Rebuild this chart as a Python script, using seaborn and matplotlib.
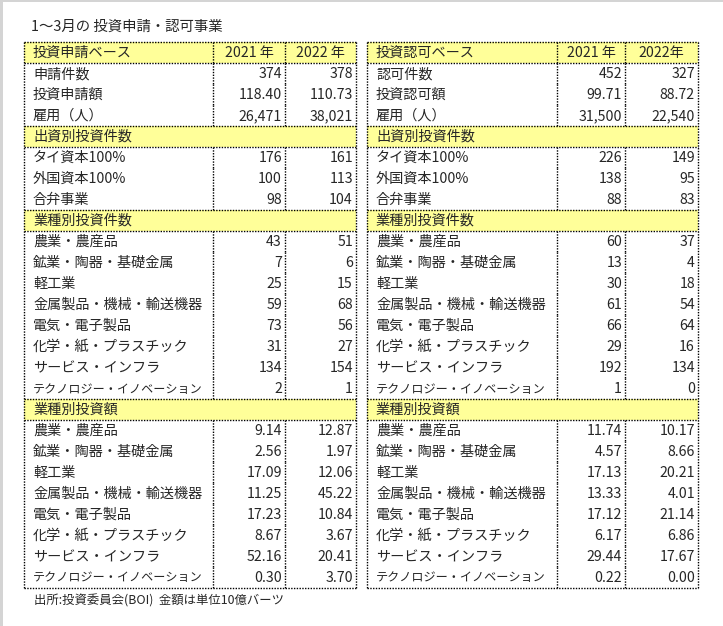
import matplotlib
matplotlib.use("Agg")
import matplotlib.pyplot as plt
from matplotlib.patches import Rectangle
import seaborn as sns

sns.set_theme(style="white")
plt.rcParams['font.family'] = ['Noto Sans CJK JP', 'DejaVu Sans']

# ---- data ----
TITLE = "1～3月の 投資申請・認可事業"
NOTE = "出所:投資委員会(BOI)  金額は単位10億バーツ"

left_head = ["投資申請ベース", "2021 年", "2022 年"]
right_head = ["投資認可ベース", "2021 年", "2022年"]

left_base_labels = ["申請件数", "投資申請額", "雇用（人）"]
right_base_labels = ["認可件数", "投資認可額", "雇用（人）"]
left_base_2021 = [374, 118.40, 26471]
left_base_2022 = [378, 110.73, 38021]
right_base_2021 = [452, 99.71, 31500]
right_base_2022 = [327, 88.72, 22540]

capital_labels = ["タイ資本100%", "外国資本100%", "合弁事業"]
left_cap_2021 = [176, 100, 98]
left_cap_2022 = [161, 113, 104]
right_cap_2021 = [226, 138, 88]
right_cap_2022 = [149, 95, 83]

sector_labels = ["農業・農産品", "鉱業・陶器・基礎金属", "軽工業", "金属製品・機械・輸送機器",
                 "電気・電子製品", "化学・紙・プラスチック", "サービス・インフラ",
                 "テクノロジー・イノベーション"]
left_cnt_2021 = [43, 7, 25, 59, 73, 31, 134, 2]
left_cnt_2022 = [51, 6, 15, 68, 56, 27, 154, 1]
right_cnt_2021 = [60, 13, 30, 61, 66, 29, 192, 1]
right_cnt_2022 = [37, 4, 18, 54, 64, 16, 134, 0]

left_amt_2021 = [9.14, 2.56, 17.09, 11.25, 17.23, 8.67, 52.16, 0.30]
left_amt_2022 = [12.87, 1.97, 12.06, 45.22, 10.84, 3.67, 20.41, 3.70]
right_amt_2021 = [11.74, 4.57, 17.13, 13.33, 17.12, 6.17, 29.44, 0.22]
right_amt_2022 = [10.17, 8.66, 20.21, 4.01, 21.14, 6.86, 17.67, 0.00]


def fmt_base(vals):
    return [f"{vals[0]:d}", f"{vals[1]:.2f}", f"{vals[2]:,d}"]


def build(head, base_labels, b21, b22, c21, c22, n21, n22, a21, a22):
    rows = [("head", head)]
    rows += [("row", [l, x, y]) for l, x, y in zip(base_labels, fmt_base(b21), fmt_base(b22))]
    rows.append(("section", ["出資別投資件数"]))
    rows += [("row", [l, str(x), str(y)]) for l, x, y in zip(capital_labels, c21, c22)]
    rows.append(("section", ["業種別投資件数"]))
    rows += [("row", [l, str(x), str(y)]) for l, x, y in zip(sector_labels, n21, n22)]
    rows.append(("section", ["業種別投資額"]))
    rows += [("row", [l, f"{x:.2f}", f"{y:.2f}"]) for l, x, y in zip(sector_labels, a21, a22)]
    return rows


left_rows = build(left_head, left_base_labels, left_base_2021, left_base_2022,
                  left_cap_2021, left_cap_2022, left_cnt_2021, left_cnt_2022,
                  left_amt_2021, left_amt_2022)
right_rows = build(right_head, right_base_labels, right_base_2021, right_base_2022,
                   right_cap_2021, right_cap_2022, right_cnt_2021, right_cnt_2022,
                   right_amt_2021, right_amt_2022)

# ---- drawing ----
W, H = 723, 626
fig = plt.figure(figsize=(W / 100, H / 100), dpi=100)
ax = fig.add_axes([0, 0, 1, 1])
ax.set_xlim(0, W)
ax.set_ylim(H, 0)
ax.axis("off")
renderer = fig.canvas.get_renderer()

YELLOW = "#ffff99"
dot = dict(color="black", linewidth=1, linestyle=(0, (1, 1)))
FS = 10.2
TOP = 42
RH = 21

# thin gray frame on left / top edges
ax.add_patch(Rectangle((0, 0), 2.5, H, color="#d4d4d4", lw=0))
ax.add_patch(Rectangle((0, 0), W, 2, color="#d4d4d4", lw=0))


def fit_label(x, y, s, max_w):
    # shrink long labels so they stay inside the first column
    t = ax.text(x, y, s, fontsize=FS, va="center", ha="left")
    w = t.get_window_extent(renderer).width
    if w > max_w:
        t.set_fontsize(FS * max_w / w)
    return t


def draw_table(rows, x0, x1, x2, x3):
    n = len(rows)
    bottom = TOP + n * RH
    for i, (kind, cells) in enumerate(rows):
        y = TOP + i * RH
        yc = y + RH / 2 + 0.5
        if kind in ("head", "section"):
            ax.add_patch(Rectangle((x0, y), x3 - x0, RH, facecolor=YELLOW, lw=0))
            ax.plot([x0, x3], [y, y], **dot)
            ax.plot([x0, x3], [y + RH, y + RH], **dot)
        if kind == "section":
            ax.text(x0 + 9, yc, cells[0], fontsize=FS, va="center", ha="left")
            continue
        ax.plot([x1, x1], [y, y + RH], **dot)
        ax.plot([x2, x2], [y, y + RH], **dot)
        fit_label(x0 + 9, yc, cells[0], x1 - x0 - 20)
        if kind == "head":
            ax.text((x1 + x2) / 2, yc, cells[1], fontsize=FS, va="center", ha="center")
            ax.text((x2 + x3) / 2, yc, cells[2], fontsize=FS, va="center", ha="center")
        else:
            ax.text(x2 - 3, yc, cells[1], fontsize=FS, va="center", ha="right")
            ax.text(x3 - 3, yc, cells[2], fontsize=FS, va="center", ha="right")
    ax.plot([x0, x0], [TOP, bottom], **dot)
    ax.plot([x3, x3], [TOP, bottom], **dot)
    ax.plot([x0, x3], [bottom, bottom], **dot)


draw_table(left_rows, 24, 213, 285, 356)
draw_table(right_rows, 367, 557, 625, 698)

ax.text(31, 27, TITLE, fontsize=10.4, va="center", ha="left")
ax.text(34, 601, NOTE, fontsize=8.9, va="center", ha="left")

fig.savefig("out.png", dpi=100)
